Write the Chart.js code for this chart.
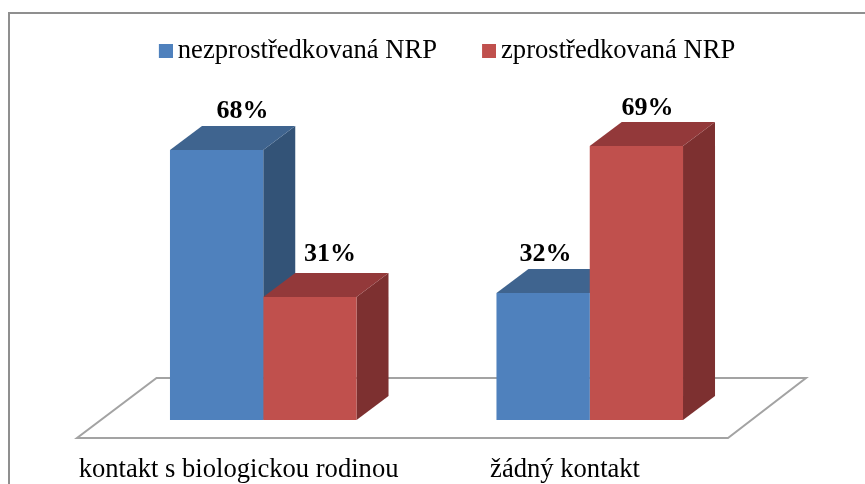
<!DOCTYPE html>
<html>
<head>
<meta charset="utf-8">
<style>html,body{margin:0;padding:0;background:#fff;overflow:hidden}canvas{display:block}</style>
<script src="https://cdn.jsdelivr.net/npm/chart.js@4"></script>
</head>
<body>
<canvas id="c" width="865" height="484"></canvas>
<script>
const categories = ['kontakt s biologickou rodinou', 'žádný kontakt'];
const seriesNames = ['nezprostředkovaná NRP', 'zprostředkovaná NRP'];
const unmediated = [68, 32];
const mediated = [31, 69];

const FONT = '"Liberation Serif","Times New Roman",serif';
const faceColors = ['#4F81BD', '#C0504D'];
const topColors = ['#3F648F', '#93393A'];
const sideColors = ['#335377', '#7D3030'];
const DEPTH_X = 32, DEPTH_Y = 24;
const LEGEND_SHIFT_X = 15.65, LEGEND_SHIFT_Y = -47.9;
const AREA_LEFT = 100, AREA_RIGHT = 112, AXIS_HEIGHT = 63;
const labelNudge = [[26, -32], [2.5, -32], [20, -36], [11, -31]]; // per label, hand-placed in the original

function swatch(color) {
  const s = document.createElement('canvas');
  s.width = 20; s.height = 14;
  const g = s.getContext('2d');
  g.fillStyle = color; g.fillRect(6, 0, 14, 14);
  return s;
}

const decor = {
  id: 'decor',
  afterLayout(chart) {
    chart.legend.left += LEGEND_SHIFT_X; chart.legend.right += LEGEND_SHIFT_X;
    chart.legend.top += LEGEND_SHIFT_Y; chart.legend.bottom += LEGEND_SHIFT_Y;
  },
  beforeDraw(chart) {
    const c = chart.ctx;
    c.save();
    c.fillStyle = '#fff'; c.fillRect(0, 0, chart.width, chart.height);
    c.strokeStyle = '#8f8f8f'; c.lineWidth = 2;
    c.beginPath(); c.moveTo(9, chart.height); c.lineTo(9, 13); c.lineTo(chart.width, 13); c.stroke();
    c.restore();
  },
  beforeDatasetsDraw(chart) {
    const c = chart.ctx, a = chart.chartArea, base = chart.scales.y.getPixelForValue(0);
    c.save();
    c.strokeStyle = '#a3a3a3'; c.lineWidth = 2; c.lineJoin = 'miter';
    c.beginPath();
    c.moveTo(a.left - 23, base + 18);
    c.lineTo(a.right - 25, base + 18);
    c.lineTo(a.right + 53, base - 42);
    c.lineTo(a.left + 56.5, base - 42);
    c.closePath(); c.stroke();
    chart.data.datasets.forEach((ds, i) => {
      chart.getDatasetMeta(i).data.forEach(bar => {
        const l = bar.x - bar.width / 2, r = bar.x + bar.width / 2, t = bar.y, b = bar.base;
        c.fillStyle = sideColors[i];
        c.beginPath(); c.moveTo(r, t); c.lineTo(r + DEPTH_X, t - DEPTH_Y); c.lineTo(r + DEPTH_X, b - DEPTH_Y); c.lineTo(r, b); c.closePath(); c.fill();
        c.fillStyle = topColors[i];
        c.beginPath(); c.moveTo(l, t); c.lineTo(l + DEPTH_X, t - DEPTH_Y); c.lineTo(r + DEPTH_X, t - DEPTH_Y); c.lineTo(r, t); c.closePath(); c.fill();
      });
    });
    c.restore();
  },
  afterDatasetsDraw(chart) {
    const c = chart.ctx;
    c.save();
    c.fillStyle = '#000'; c.font = 'bold 26px ' + FONT;
    c.textAlign = 'center'; c.textBaseline = 'alphabetic';
    let n = 0;
    chart.data.datasets.forEach((ds, i) => {
      chart.getDatasetMeta(i).data.forEach((bar, j) => {
        const [dx, dy] = labelNudge[n++];
        c.fillText(ds.data[j] + '%', bar.x + dx, bar.y + dy);
      });
    });
    c.restore();
  }
};

const hiddenY = (position, width) => ({
  position, min: 0, max: 75,
  grid: { display: false }, border: { display: false }, ticks: { display: false },
  afterFit(scale) { scale.width = width; }
});

new Chart(document.getElementById('c'), {
  type: 'bar',
  data: {
    labels: categories,
    datasets: [
      { label: seriesNames[0], data: unmediated, backgroundColor: faceColors[0], borderWidth: 0 },
      { label: seriesNames[1], data: mediated, backgroundColor: faceColors[1], borderWidth: 0 }
    ]
  },
  plugins: [decor],
  options: {
    responsive: false,
    animation: false,
    devicePixelRatio: 1,
    layout: { padding: { left: 0, right: 0, top: 38.3, bottom: 1 } },
    datasets: { bar: { categoryPercentage: 0.5714, barPercentage: 1 } },
    scales: {
      x: {
        grid: { display: false }, border: { display: false },
        afterFit(scale) { scale.height = AXIS_HEIGHT; },
        ticks: { color: '#000', padding: 26, labelOffset: -24.7, maxRotation: 0, autoSkip: false, font: { family: FONT, size: 26.6 } }
      },
      y: hiddenY('left', AREA_LEFT),
      yRight: hiddenY('right', AREA_RIGHT)
    },
    plugins: {
      tooltip: { enabled: false },
      legend: {
        position: 'top',
        labels: {
          color: '#000',
          padding: 47.3,
          usePointStyle: true,
          pointStyleWidth: 3.4,
          boxHeight: 14,
          font: { family: FONT, size: 26.6 },
          generateLabels: chart => chart.data.datasets.map((ds, i) => ({
            text: ds.label, datasetIndex: i, fontColor: '#000',
            fillStyle: faceColors[i], strokeStyle: faceColors[i], lineWidth: 0,
            pointStyle: swatch(faceColors[i])
          }))
        }
      }
    }
  }
});
</script>
</body>
</html>
